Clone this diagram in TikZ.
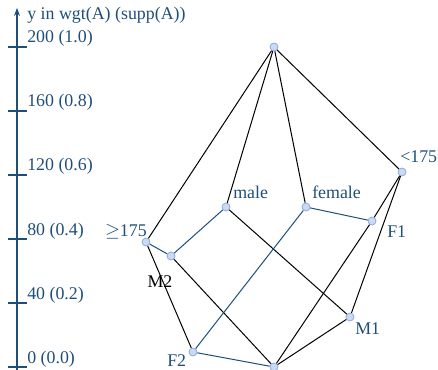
\documentclass[tikz,border=0pt]{standalone}
\usepackage{fontspec}
\setmainfont{Liberation Serif}
\usetikzlibrary{arrows.meta}
\definecolor{darkblue}{HTML}{1F4E79}
\definecolor{nodefill}{HTML}{C9DAF2}
\definecolor{nodedraw}{HTML}{8EAADB}
\tikzset{
  concept/.style={circle,fill=nodefill,draw=nodedraw,inner sep=0pt,minimum size=6pt,line width=0.6pt},
  lbl/.style={text=darkblue,inner sep=0pt,font=\fontsize{13.4}{15}\selectfont},
  edge/.style={black,line width=0.75pt},
  bedge/.style={darkblue,line width=0.75pt},
}
\begin{document}
\begin{tikzpicture}[x=0.75pt,y=-0.75pt]
	\useasboundingbox (0,0) rectangle (438,370);
	% axis with ticks
	\coordinate (abot) at (17,370);
	\coordinate (atop) at (17,8);
	\draw[darkblue,line width=0.8pt,-{Stealth[length=6pt,width=4.5pt]}] (abot) -- (atop);
	\node[lbl,anchor=base west] (atitle) at (27,20) {y in wgt(A) (supp(A))};
	\foreach \k/\w/\s in {0/0/0.0,1/40/0.2,2/80/0.4,3/120/0.6,4/160/0.8,5/200/1.0}{
		\pgfmathsetmacro{\ty}{367-64*\k}
		\draw[darkblue,line width=0.8pt] (8,\ty) -- (27,\ty);
		\node[lbl,anchor=base west] (tick\k) at (27,\ty-4) {\w\ (\s)};
	}
	% concepts
	\node[concept] (top) at (274,47) {};
	\node[concept] (lt) at (402,172) {};
	\node[concept] (male) at (226,207) {};
	\node[concept] (female) at (306,207) {};
	\node[concept] (fone) at (372,221) {};
	\node[concept] (ge) at (146,242) {};
	\node[concept] (mtwo) at (171,256) {};
	\node[concept] (mone) at (350,317) {};
	\node[concept] (ftwo) at (193,352) {};
	\node[concept] (bot) at (274,367) {};
	% lines
	\draw[edge] (top) -- (ge);
	\draw[edge] (top) -- (male);
	\draw[edge] (top) -- (female);
	\draw[edge] (top) -- (lt);
	\draw[edge] (lt) -- (fone);
	\draw[edge] (lt) -- (mone);
	\draw[edge] (ge) -- (ftwo);
	\draw[edge] (male) -- (mone);
	\draw[edge] (mtwo) -- (bot);
	\draw[edge] (fone) -- (bot);
	\draw[edge] (mone) -- (bot);
	\draw[bedge] (ge) -- (mtwo);
	\draw[bedge] (male) -- (mtwo);
	\draw[bedge] (female) -- (ftwo);
	\draw[bedge] (female) -- (fone);
	\draw[bedge] (ftwo) -- (bot);
	% labels
	\node[lbl,anchor=base east] (lge) at (147,236) {$\geq$175};
	\node[lbl,anchor=base,text=black] (lmtwo) at (160,287) {M2};
	\node[lbl,anchor=base west] (lmale) at (233,199) {male};
	\node[lbl,anchor=base west] (lfemale) at (312,199) {female};
	\node[lbl,anchor=base west] (llt) at (400,163) {<175};
	\node[lbl,anchor=base west] (lfone) at (387,237) {F1};
	\node[lbl,anchor=base west] (lmone) at (355,334) {M1};
	\node[lbl,anchor=base west] (lftwo) at (167,366) {F2};
\end{tikzpicture}
\end{document}
